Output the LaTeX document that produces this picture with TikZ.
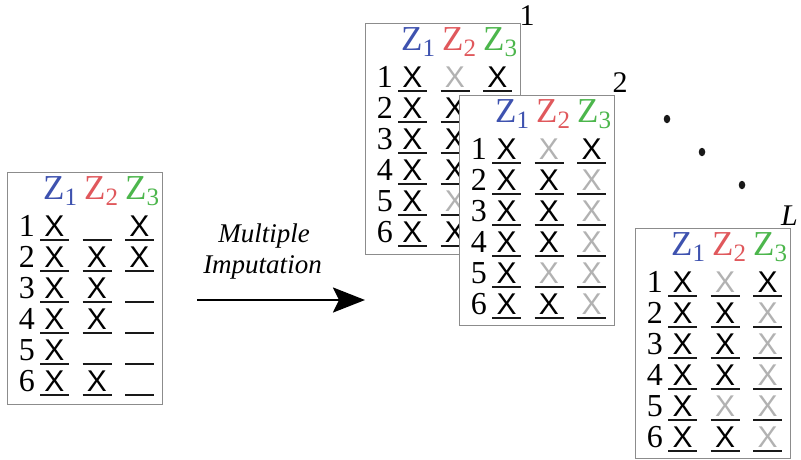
\documentclass[tikz,border=0pt]{standalone}
\usepackage{fontspec}
\setmainfont{Liberation Serif}
\newfontfamily\xfont{Liberation Sans}
\usetikzlibrary{arrows.meta,shapes.geometric}

\definecolor{zblue}{RGB}{62,82,175}
\definecolor{zred}{RGB}{224,88,92}
\definecolor{zgreen}{RGB}{76,182,76}
\definecolor{imputed}{RGB}{178,178,178}
\definecolor{boxgray}{RGB}{140,140,140}

\newcommand\rowfont{\fontsize{32}{32}\selectfont}
\newcommand\cellfont{\xfont\fontsize{30}{30}\selectfont}
\newcommand\zvar[1]{{\fontsize{35}{35}\selectfont Z}\raisebox{-6pt}{\fontsize{25}{25}\selectfont #1}}

% cell codes: o = observed value, i = imputed value, m = missing,
% h = cell lying under the next table (nothing drawn)
\def\codeO{o}\def\codeI{i}\def\codeH{h}

% one cell: value (if any) sitting on its underline
\newcommand\putcell[4]{%
  \edef\tmpcode{#4}%
  \ifx\tmpcode\codeO \node[cellx] (#1) at (#2,#3) {X};\fi
  \ifx\tmpcode\codeI \node[cellx,text=imputed] (#1) at (#2,#3) {X};\fi
  \ifx\tmpcode\codeH\else
    \draw[uline] ({#2-14.5},{#3+3.5}) -- ({#2+14.5},{#3+3.5});\fi}

% a data table: name, left, top, height, rows
\newcommand\imptable[5]{%
  \begin{scope}[shift={(#2,#3)}]
    \node[tablebox, minimum height=#4pt] (#1) at (0,0) {};
    \node[head, text=zblue]  (#1-z1) at (36,27)  {\zvar{1}};
    \node[head, text=zred]   (#1-z2) at (77,27)  {\zvar{2}};
    \node[head, text=zgreen] (#1-z3) at (118,27) {\zvar{3}};
    \foreach \ca/\cb/\cc [count=\r] in {#5} {
      \pgfmathsetmacro\yb{64.5+31*(\r-1)}
      \node[rownum] (#1-n\r) at (28,\yb) {\r};
      \putcell{#1-\r a}{47.5}{\yb}{\ca}
      \putcell{#1-\r b}{90}{\yb}{\cb}
      \putcell{#1-\r c}{132.5}{\yb}{\cc}
    }
  \end{scope}}

\tikzset{
  tablebox/.style={draw=boxgray, line width=1.3pt, fill=white, inner sep=0pt,
    minimum width=155pt, anchor=north west},
  head/.style={anchor=base west, inner sep=0pt},
  rownum/.style={font=\rowfont, anchor=base east, inner sep=0pt},
  cellx/.style={font=\cellfont, anchor=base, inner sep=0pt},
  uline/.style={line width=1.6pt, black!90},
  caption/.style={font=\fontsize{27}{27}\selectfont\itshape, anchor=base, inner sep=0pt},
  copylabel/.style={font=\fontsize{30}{30}\selectfont, anchor=base, inner sep=0pt},
  dot/.style={ellipse, fill=black!90, inner sep=0pt, minimum width=6.5pt, minimum height=8.5pt},
}

\begin{document}
\begin{tikzpicture}[x=1pt, y=-1pt]
  \useasboundingbox (0,0) rectangle (801,459);

  % incomplete data set
  \imptable{T0}{7}{172}{232}{o/m/o, o/o/o, o/o/m, o/o/m, o/m/m, o/o/m}

  % the arrow and its caption
  \node[caption] (cap1) at (264,242) {Multiple};
  \node[caption] (cap2) at (262.5,273) {Imputation};
  \coordinate (arrS) at (197,300);
  \coordinate (arrE) at (365,300);
  \draw[line width=2.5pt, -{Stealth[length=32pt,width=25pt,inset=6pt]}] (arrS) -- (arrE);

  % completed data sets
  \imptable{T1}{365}{23}{231}{o/i/o, o/o/h, o/o/h, o/o/h, o/i/h, o/o/h}
  \node[copylabel] (lab1) at (527,25) {1};
  \imptable{T2}{459}{95}{230}{o/i/o, o/o/i, o/o/i, o/o/i, o/i/i, o/o/i}
  \node[copylabel] (lab2) at (620,92) {2};

  \node[dot] (d1) at (667,119) {};
  \node[dot] (d2) at (702,152) {};
  \node[dot] (d3) at (742,185) {};

  \imptable{TL}{635}{228}{230}{o/i/o, o/o/i, o/o/i, o/o/i, o/i/i, o/o/i}
  \node[copylabel, font=\fontsize{30}{30}\selectfont\itshape, anchor=base west] (labL) at (781,225) {L};
\end{tikzpicture}
\end{document}
